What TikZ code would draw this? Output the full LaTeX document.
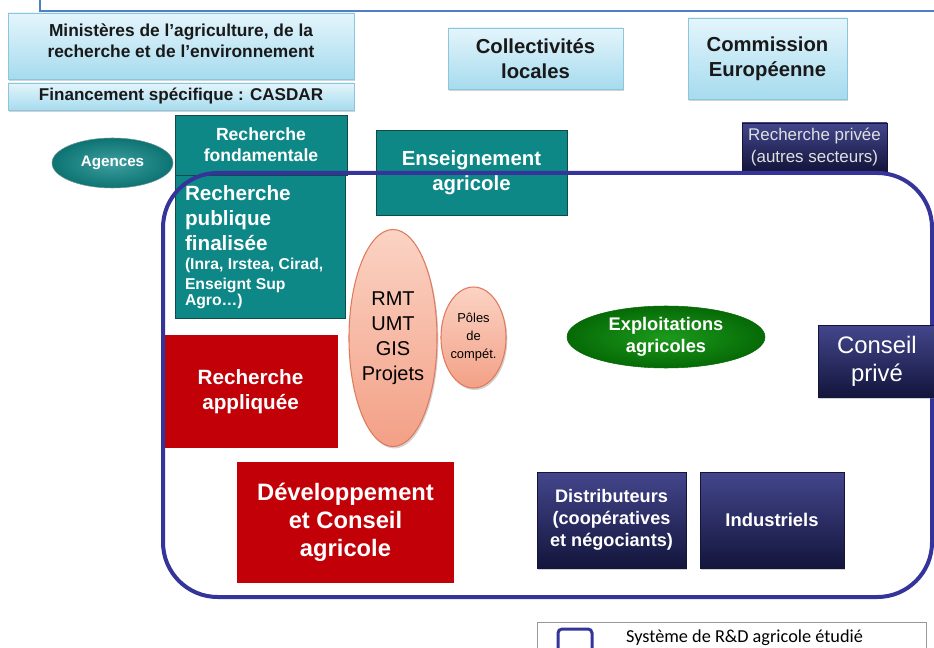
\documentclass[tikz,border=0pt]{standalone}
\usepackage{fontspec}
\setmainfont{Liberation Sans}
\newfontfamily\legendfont{Carlito}
\usepackage{xcolor}
\usetikzlibrary{shapes.geometric, shadows}

\definecolor{skytop}{HTML}{E4F5FC}
\definecolor{skybot}{HTML}{A6DBEE}
\definecolor{skyedge}{HTML}{8CC6DC}
\definecolor{tealfill}{HTML}{0E8787}
\definecolor{tealedge}{HTML}{124A4A}
\definecolor{redfill}{HTML}{C20008}
\definecolor{salmontop}{HTML}{FBD3C4}
\definecolor{salmonbot}{HTML}{F3A086}
\definecolor{salmonedge}{HTML}{E07A5C}
\definecolor{greenin}{HTML}{1C9A1C}
\definecolor{greenout}{HTML}{066A06}
\definecolor{navytop}{HTML}{43468C}
\definecolor{navybot}{HTML}{13153C}
\definecolor{sysline}{HTML}{34349A}
\definecolor{frameblue}{HTML}{4F7FC4}

\begin{document}
\begin{tikzpicture}[x=0.75pt, y=-0.75pt,
    shade/.style={drop shadow={opacity=0.35, shadow xshift=1pt, shadow yshift=-1.5pt}},
    skybox/.style={draw=skyedge, top color=skytop, bottom color=skybot, shade, text=black!90, align=center, inner sep=0pt},
    tealbox/.style={draw=tealedge, fill=tealfill, text=white, align=center, inner sep=0pt},
    redbox/.style={fill=redfill, text=white, align=center, inner sep=0pt, font=\bfseries\fontsize{15.5}{18.75}\selectfont},
    navybox/.style={draw=navybot, top color=navytop, bottom color=navybot, shade, text=white, align=center, inner sep=0pt},
    salmon/.style={ellipse, draw=salmonedge, thick, top color=salmontop, bottom color=salmonbot, shade, align=center, inner sep=0pt}]
  \useasboundingbox (0,0) rectangle (934,648);
  \clip (0,0) rectangle (934,648);

  \draw[frameblue, line width=1.1pt] (40,-5) |- (940,11);

  \node[skybox, minimum width=259.5pt, minimum height=49.5pt] (ministeres) at (181,46) {};
  \node[align=center, text=black!90, font=\bfseries\fontsize{13}{15.5}\selectfont]
    (ministerestxt) at (181,41) {Ministères de l’agriculture, de la\\recherche et de l’environnement};
  \node[skybox, minimum width=259.5pt, minimum height=20.25pt, font=\bfseries\fontsize{12.8}{15}\selectfont]
    (casdar) at (181,96.5) {Financement spécifique : CASDAR};
  \node[skybox, minimum width=131.25pt, minimum height=45.75pt, font=\bfseries\fontsize{15.2}{18.75}\selectfont]
    (collectivites) at (535.5,58.5) {Collectivités\\locales};
  \node[skybox, minimum width=119.25pt, minimum height=60.75pt, font=\bfseries\fontsize{15.2}{18.75}\selectfont]
    (commission) at (767.5,58.5) {Commission\\Européenne};

  \node[ellipse, draw=tealedge!60, inner color=tealfill!80!white, outer color=tealfill!85!black, text=white,
    minimum width=90.75pt, minimum height=37.5pt, inner sep=0pt, font=\bfseries\fontsize{11.4}{14}\selectfont]
    (agences) at (112.5,163) {Agences};
  \node[tealbox, minimum width=129pt, minimum height=45pt, font=\bfseries\fontsize{13.2}{16}\selectfont]
    (fondamentale) at (261,145) {Recherche\\fondamentale};
  \node[tealbox, minimum width=127.5pt, minimum height=107.25pt, text width=112.5pt, align=left, inner xsep=7.5pt]
    (finalisee) at (260,247)
    {\fontsize{15.5}{18.75}\selectfont\bfseries Recherche\\publique\\finalisée\par
     \fontsize{11.8}{14.5}\selectfont\bfseries (Inra, Irstea, Cirad,\\Enseignt Sup\\Agro…)};
  \node[tealbox, minimum width=143.25pt, minimum height=63.75pt, font=\bfseries\fontsize{15.3}{19}\selectfont]
    (enseignement) at (471.5,172.5) {Enseignement\\agricole};

  \node[redbox, minimum width=131.25pt, minimum height=84.75pt] (appliquee) at (250.5,391.5) {Recherche\\appliquée};
  \node[redbox, minimum width=162.75pt, minimum height=90.75pt, font=\bfseries\fontsize{17.8}{21}\selectfont]
    (developpement) at (345.5,522.5) {Développement\\et Conseil\\agricole};

  \node[salmon, minimum width=64.5pt, minimum height=162.75pt, font=\fontsize{15}{18.75}\selectfont]
    (rmt) at (393,338) {RMT\\UMT\\GIS\\Projets};
  \node[salmon, minimum width=42.75pt, minimum height=75.75pt, font=\fontsize{9.7}{13.5}\selectfont]
    (poles) at (473.5,337.5) {Pôles\\de\\compét.};

  \node[ellipse, draw=greenout, inner color=greenin, outer color=greenout, text=white, align=center,
    minimum width=148.5pt, minimum height=46.5pt, inner sep=0pt, font=\bfseries\fontsize{13.7}{16.5}\selectfont]
    (exploitations) at (666,337) {Exploitations\\agricoles};

  \node[navybox, minimum width=108.75pt, minimum height=36pt, text=white!88!black, font=\fontsize{12.7}{16}\selectfont]
    (rprivee) at (814.5,147) {Recherche privée\\(autres secteurs)};
  \node[navybox, minimum width=111.75pt, minimum height=72pt, font=\bfseries\fontsize{13.6}{16.5}\selectfont]
    (distributeurs) at (611.5,520) {Distributeurs\\(coopératives\\et négociants)};
  \node[navybox, minimum width=108pt, minimum height=72pt, font=\bfseries\fontsize{13.8}{16.5}\selectfont]
    (industriels) at (772,520) {Industriels};

  \node[draw=sysline, line width=3pt, rounded corners=41pt, minimum width=576.75pt, minimum height=318pt]
    (systeme) at (547.5,385) {};

  \node[navybox, minimum width=88.5pt, minimum height=54pt, font=\fontsize{17.9}{21}\selectfont]
    (cprive) at (877,361) {Conseil\\privé};

  \node[draw=black!40, line width=0.75pt, minimum width=291.75pt, minimum height=37.5pt] (legende) at (731.5,647) {};
  \node[draw=sysline, line width=2.25pt, rounded corners=3pt, minimum width=25.5pt, minimum height=18pt]
    (legicon) at (575,641) {};
  \node[font=\legendfont\fontsize{13.7}{15}\selectfont, inner sep=0pt] (legtexte) at (744.5,637.5) {Système de R\&D agricole étudié};
\end{tikzpicture}
\end{document}
